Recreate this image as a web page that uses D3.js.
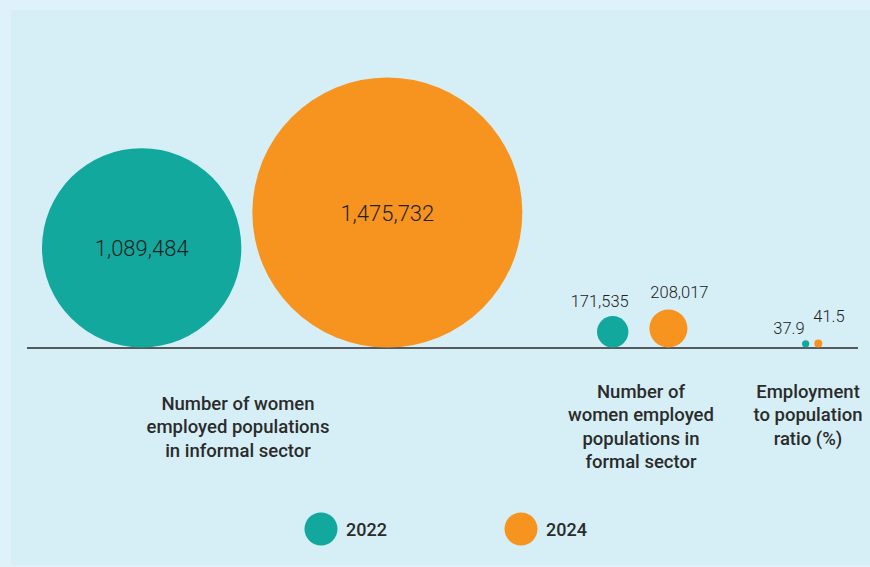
<!DOCTYPE html>
<html>
<head>
<meta charset="utf-8">
<script src="https://cdn.jsdelivr.net/npm/d3@7"></script>
<style>
  html, body { margin: 0; padding: 0; background: #dff2f9; }
  svg { display: block; font-family: Roboto, "Noto Sans", sans-serif; }
</style>
</head>
<body>
<div id="chart"></div>
<script>
// data
const categories = [
  ["Number of women", "employed populations", "in informal sector"],
  ["Number of", "women employed", "populations in", "formal sector"],
  ["Employment", "to population", "ratio (%)"]
];
const years = ["2022", "2024"];
const values2022 = [1089484, 171535, 37.9];
const values2024 = [1475732, 208017, 41.5];
const valueLabels2022 = ["1,089,484", "171,535", "37.9"];
const valueLabels2024 = ["1,475,732", "208,017", "41.5"];

const colors = ["#12a89d", "#f7941f"];

const width = 870, height = 567;
const baseY = 348;

const svg = d3.select("#chart").append("svg")
  .attr("width", width)
  .attr("height", height);

// panel
svg.append("rect")
  .attr("x", 11).attr("y", 10)
  .attr("width", width - 11).attr("height", height - 12)
  .attr("fill", "#d6eff6");

// radius scales: counts share one, the ratio gets its own
const rCount = d3.scaleLinear().domain([0, 1475732]).range([0, 135]);
const rRatio = d3.scaleLinear().domain([0, 41.5]).range([0, 4]);
const rScale = i => i < 2 ? rCount : rRatio;

// where each group starts and the gap between its two circles
const groupX = d3.scaleOrdinal().domain([0, 1, 2]).range([42, 597, 802]);
const groupGap = d3.scaleOrdinal().domain([0, 1, 2]).range([11, 21, 5]);
const labelX = d3.scaleOrdinal().domain([0, 1, 2]).range([238, 641, 808]);
const labelY = d3.scaleOrdinal().domain([0, 1, 2]).range([410, 398, 398]);

var marks = [];
categories.forEach(function(c, i) {
  var r1 = rScale(i)(values2022[i]);
  var r2 = rScale(i)(values2024[i]);
  var x0 = groupX(i);
  marks.push({g: i, s: 0, r: r1, cx: x0 + r1, label: valueLabels2022[i]});
  marks.push({g: i, s: 1, r: r2, cx: x0 + 2 * r1 + groupGap(i) + r2, label: valueLabels2024[i]});
});

// baseline
svg.append("line")
  .attr("x1", 27).attr("x2", 858)
  .attr("y1", baseY).attr("y2", baseY)
  .attr("stroke", "#2a2a2a")
  .attr("stroke-width", 1.4);

svg.append("g")
  .selectAll("circle")
  .data(marks)
  .enter()
  .append("circle")
  .attr("cx", d => d.cx)
  .attr("cy", d => baseY - d.r - 0.5)
  .attr("r", d => d.r)
  .attr("fill", d => colors[d.s]);

// value labels: inside the big ones, next to the small ones
svg.append("g")
  .selectAll("text")
  .data(marks)
  .enter()
  .append("text")
  .attr("fill", "#222")
  .attr("font-weight", 300)
  .attr("font-size", d => d.g === 0 ? 22 : 16.5)
  .attr("text-anchor", function(d) {
    if (d.g === 2) return d.s === 0 ? "end" : "start";
    return "middle";
  })
  .attr("x", function(d) {
    if (d.g === 0) return d.cx;
    if (d.g === 1) return d.cx + (d.s === 0 ? -13 : 11);
    return d.s === 0 ? d.cx - 1 : d.cx - 5;
  })
  .attr("y", function(d) {
    var top = baseY - 2 * d.r;
    if (d.g === 0) return baseY - d.r + 8;
    if (d.g === 1) return top - (d.s === 0 ? 10 : 12);
    return top - (d.s === 0 ? 7 : 18);
  })
  .text(d => d.label);

// category labels
categories.forEach(function(lines, i) {
  var t = svg.append("text")
    .attr("text-anchor", "middle")
    .attr("fill", "#2b2b2b")
    .attr("font-size", 18.5)
    .attr("font-weight", 500)
    .attr("y", labelY(i));
  t.selectAll("tspan")
    .data(lines)
    .enter()
    .append("tspan")
    .attr("x", labelX(i))
    .attr("dy", (d, j) => j === 0 ? 0 : 23.3)
    .text(d => d);
});

// legend
const legend = svg.append("g")
  .selectAll("g")
  .data(years)
  .enter()
  .append("g")
  .attr("transform", (d, i) => "translate(" + (321 + i * 200) + ",529)");

legend.append("circle")
  .attr("r", 16.5)
  .attr("fill", (d, i) => colors[i]);

legend.append("text")
  .attr("x", 25)
  .attr("y", 6.5)
  .attr("fill", "#2b2b2b")
  .attr("font-size", 18)
  .attr("font-weight", 500)
  .text(d => d);
</script>
</body>
</html>
